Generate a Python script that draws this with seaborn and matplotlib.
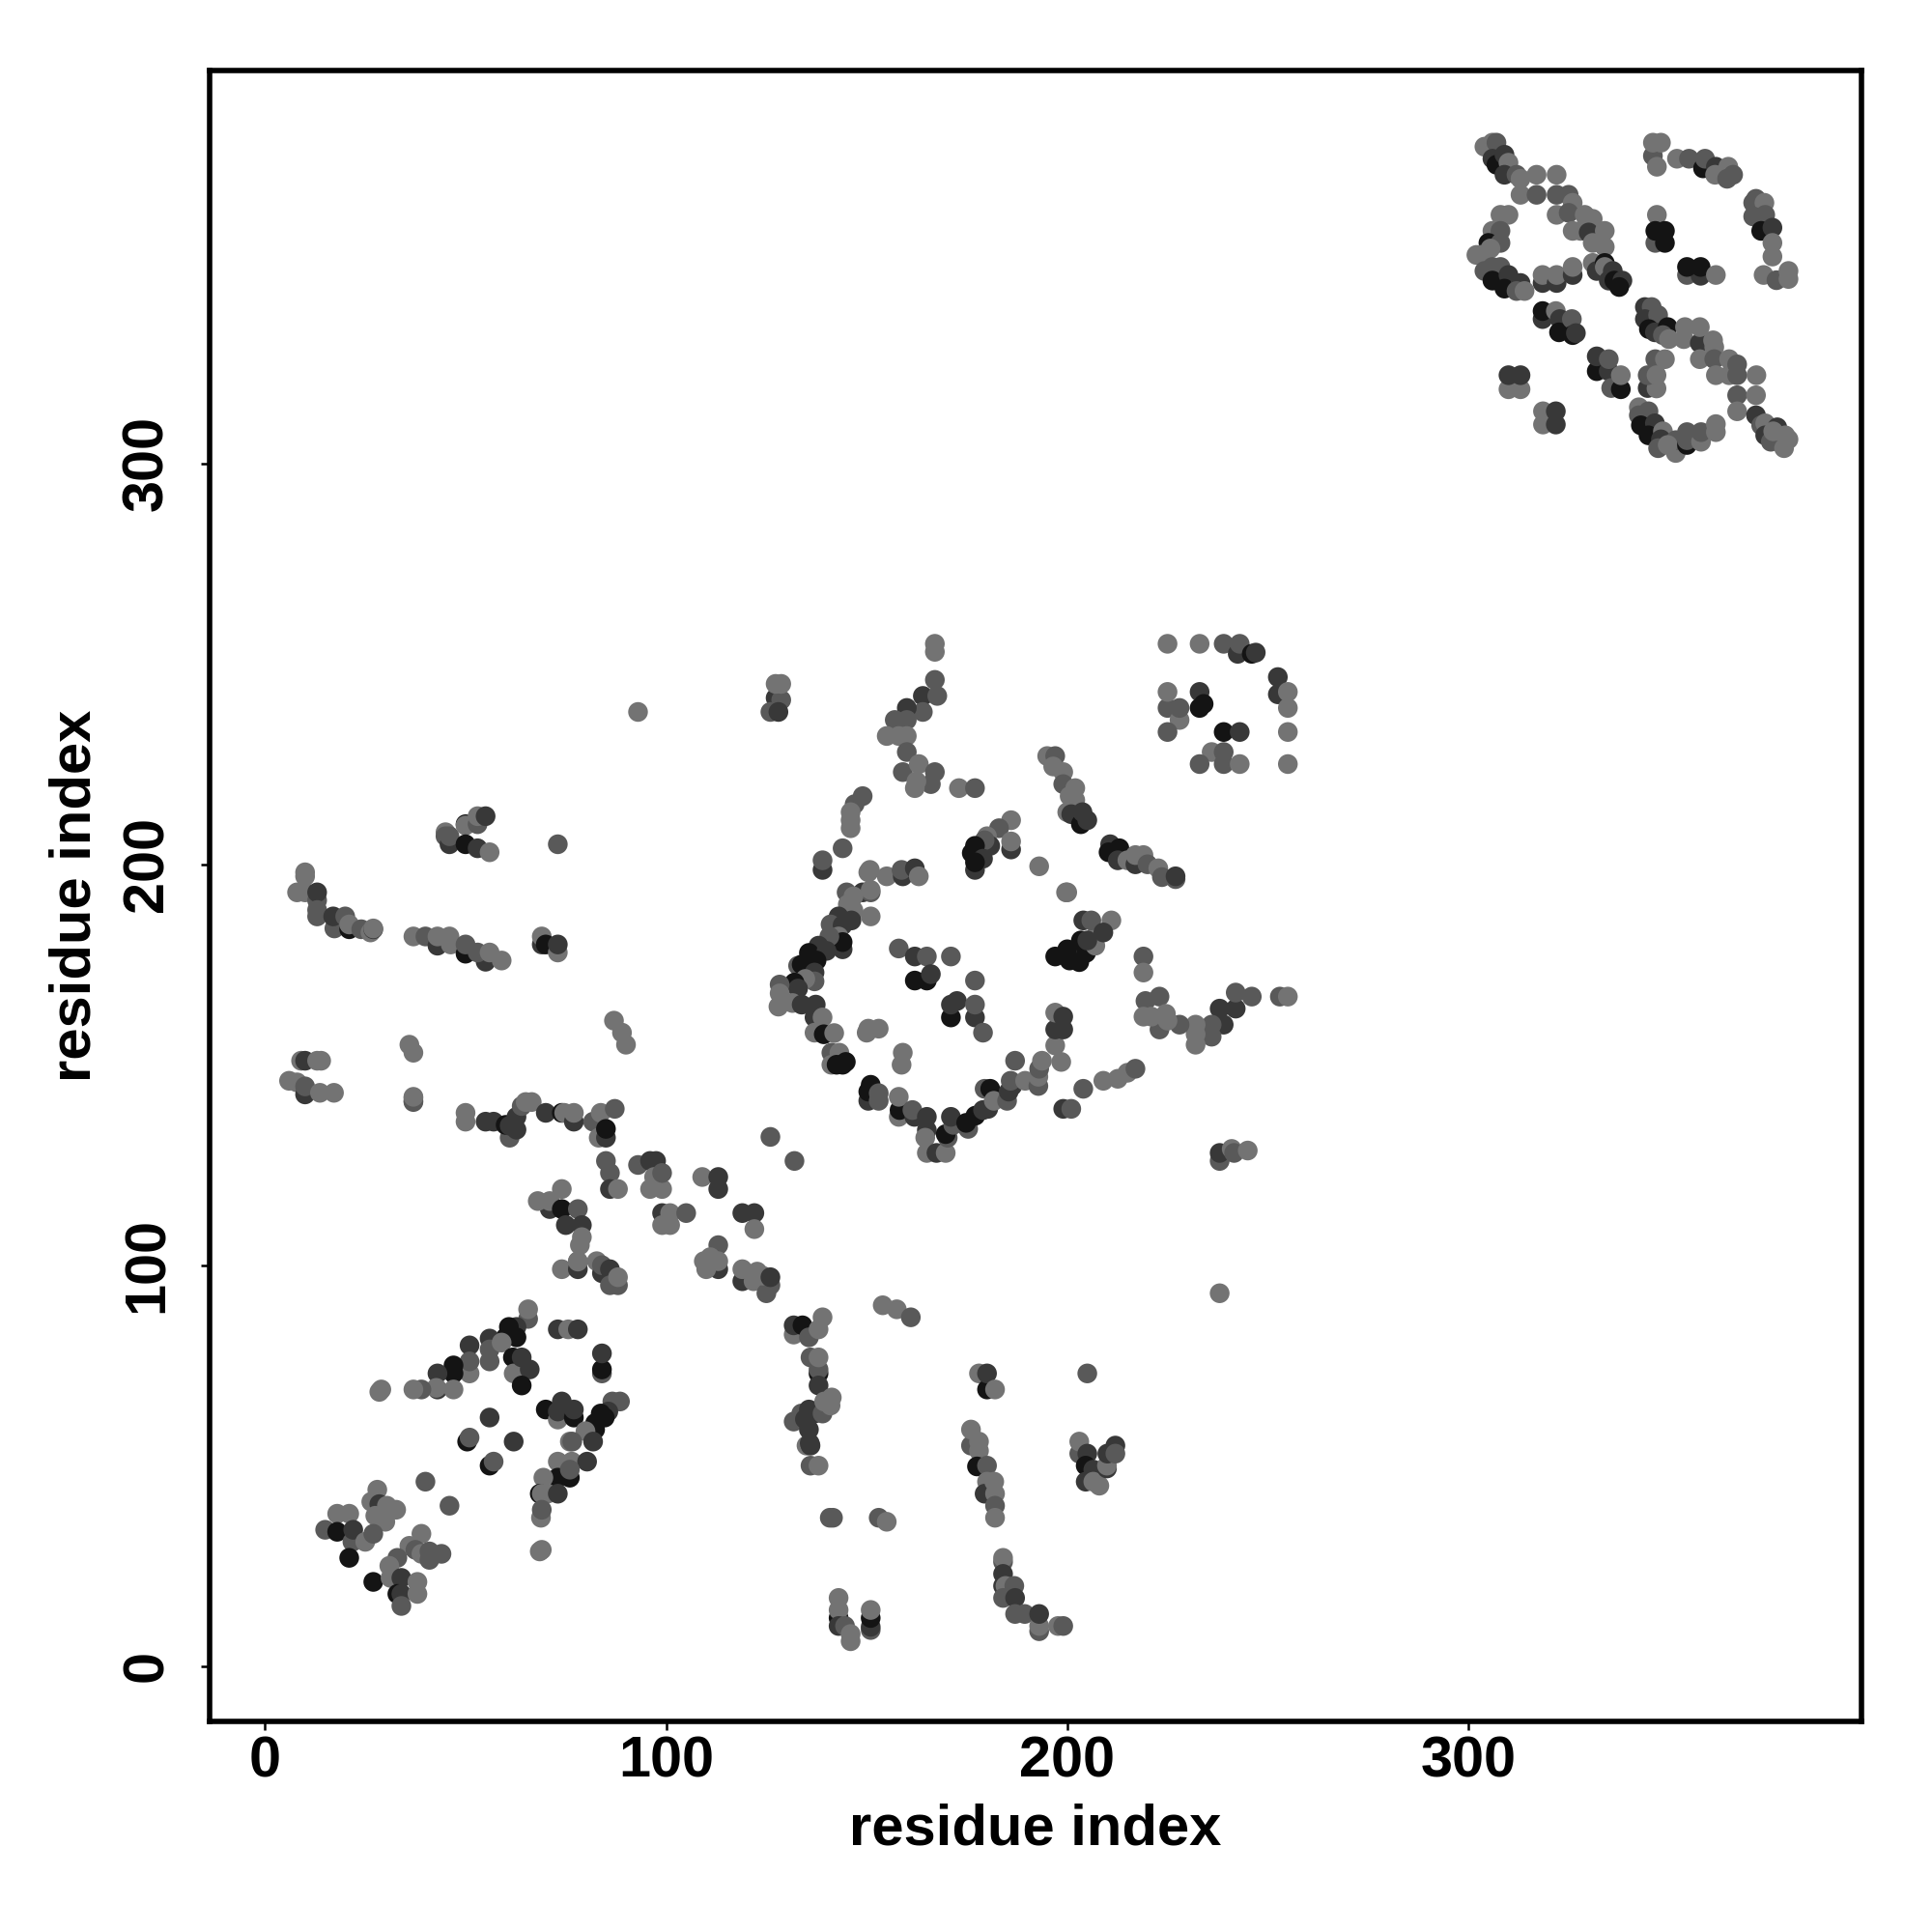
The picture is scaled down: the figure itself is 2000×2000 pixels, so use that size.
import matplotlib
matplotlib.use("Agg")
import matplotlib.pyplot as plt
import pandas as pd
import seaborn as sns

L, M, D, K = "L", "M", "D", "K"
tick_values = [0, 100, 200, 300]
axis_title = "residue index"

top_diagonal = [(304,379,L),(306,380,L),(307,380,M),(306,376,D),(307,374.5,K),(309,377,D),(310,375,L),(309,372,D),(312,372,M),(313,371,L),(317,372,L),(322,372,L),(313,367,L),(317,367,M),(322,367,M),(325,367,M),(326,365,L),(322,362,L),(325,362.5,M),(326,358,L),(329,362,L),(331,361,L),(328,358,L),(330,357.6,D),(334,358,L),(331,355,L),(334,354,L),(331,350,L),(332,348,D),(334,350,K),(334,349,L),(336,348,D),(335,345.6,D),(336.4,345.6,K),(338.4,345.6,D),(337.6,344,K)]
top_left_arc = [(308,362,L),(310,362,L),(306,358,L),(308,358,M),(305,355,K),(308,355,M),(303,352,L),(302,352,L),(305.5,353.6,L),(304,348,M),(306,349,M),(308,349,M),(306,345.6,K),(310,347,D),(309,343.6,K),(313,345,D),(312,343,M),(314,343,L),(318.5,345,D),(318.5,347,L),(322,345,D),(322,347,L),(326,347,D),(326,349,L)]
top_right_arc = [(346,376.7,M),(346,380,L),(348,380,L),(347,374,L),(352,376,L),(355,376,M),(358.5,373.6,K),(359,376,M),(361.7,374,D),(361.5,372,L),(364.8,374,L),(364.5,371,M),(366,372,M),(371,365,M),(371.7,366,M),(373.8,365,L),(371,361.6,M),(374,362,M),(373,358,K),(375.8,358.8,D),(375.8,355,L),(375.8,351.6,L),(373.6,347,L),(376.8,345.7,M),(379.8,346,L),(379.8,348,L),(347,362,L),(346.6,355,M),(349,355,K),(346.6,358,K),(349,358,K),(354.5,347,M),(357.9,346.8,D),(354.5,349,K),(357.9,349,K),(361.7,347,L)]
top_lower = [(318.5,336,D),(318.5,338,K),(321.8,338,L),(322.8,336,D),(322.6,332.7,K),(325.8,336,M),(326,332,K),(326.8,332.5,D),(332,323,K),(332,326.7,D),(335,323,D),(335,326,M),(335.6,318.8,M),(338,318.5,K),(338,322,L),(310,318.5,L),(313,318.5,L),(310,322,D),(313,322,D),(318.6,309.7,L),(318.6,313,L),(321.8,309.7,D),(321.8,313,D)]
top_main = [(344,339,D),(345.7,339,M),(344,336,D),(347.3,337,M),(345,333.5,K),(346.5,332.7,D),(349.7,334,K),(348.5,332,M),(350,331,L),(354,334,L),(353.7,331,L),(357.7,330,D),(357.7,334,L),(361,330.7,L),(361.3,329,L),(357.7,326,L),(361.3,326,M),(365,326,L),(361.7,322,L),(365,322,L),(367,322,M),(367,324.7,M),(371.8,322,L),(346.6,326,M),(349,326,L),(344.7,318.8,D),(346.9,318.7,L),(344.7,322,M),(346.9,322,L)]
top_bottom = [(342.5,314,L),(342.5,312,M),(344.9,313,M),(343,309.5,K),(346.5,310,D),(344.9,307,K),(348.5,308,L),(348,306,D),(347.3,303.8,M),(351.7,302.6,L),(351.7,305.8,M),(349.7,304.6,L),(354.5,304.6,K),(354.5,305.8,M),(354.5,307.8,M),(358,305.4,L),(358,307.8,M),(361.7,307.8,L),(361.7,309.8,L),(367,317,M),(371.7,317,L),(367,313,L),(371.7,312,D),(373,309.5,M),(374,310,L),(374,307,D),(377,309,D),(375.4,305.4,M),(376,308,L),(378.7,303.8,L),(379,307,L),(379.8,306,L)]

corner_block = [(225,255,L),(233,255,L),(239,255,M),(242.5,252.5,D),(243,255,M),(246,252.5,K),(247,252.8,D),(252.5,242.4,D),(252.5,246.7,D),(255,243,L),(255,239,L),(255,233,L),(255,225,L),(225,239,M),(225,243,L),(228,236,L),(228,239,M),(225,233,M),(233,243,D),(233,239,K),(234,240,K),(239,233,K),(243,233,D),(236,228,L),(239,228,M),(233,225,M),(239,225,M),(243,225,L)]
apex_strand = [(167,253,L),(167,255,L),(167,246,M),(164,242,D),(167.6,242,M),(164,238,M),(160,239,D),(157,236,M),(160,236,M),(155,232,L),(158,232,L),(160,232,L),(160,228,M),(159,223,M),(163,225,L),(167,223,M),(166,220,M),(162.4,220.7,L),(162,219,L),(173,219,L),(177,219,M),(127.3,241.5,D),(128.7,241,M),(127.3,245,L),(128.7,245,L),(126,238,M),(128,238,D)]
diamond_left = [(149,217,M),(147,215,M),(146,213,L),(146,211,L),(146,209,L),(144,204,M),(139,198.6,D),(139,201,M),(150.8,198.6,L),(150.4,198,L),(155,197,L),(159,197,D),(158.7,198.6,M),(162,199,D),(163,197,L),(149,193,D),(151,193,M),(151,193.6,L),(145,193,M),(146.7,192,L),(145.3,190,L),(151,187,L),(146.7,188.5,L),(143,187,D),(141,185,M),(146.2,186,D),(144,184.8,D),(143,182,L),(144,178.8,D),(144,180.6,K),(140.7,182,M),(138,179.7,D),(135.6,177.9,K),(140,178.4,D),(137.5,176,K),(132.9,174.7,M),(133.8,175,K),(137,173,D),(137,170.8,M),(134.7,171.4,L),(132,170.5,K),(132.9,169,D),(128.3,170,M),(128.3,167.8,L),(128,164.5,L),(131.5,165.4,L),(133.8,165,D),(137.3,165,D),(137,161.8,D),(139,161.8,L),(137,158,L),(139.3,157.6,K),(141.9,157.9,L),(141.2,153,M),(143.2,153,L),(141.2,150,L),(142.5,150,K),(144,150,K),(144.8,150.7,K)]
diamond_inner = [(153,159,L),(150.4,159,L),(150,158,L),(159,153,L),(158.7,150,L),(158,179,M),(162,177,D),(165,177,M),(171,177,M),(162,171,K),(165,171,K),(166,172.6,D),(177,171,M),(171,161.8,K),(171,165,D),(172.5,165.9,D),(177,161.8,D),(177,165,M),(179,158,M)]
diamond_bottom = [(150.4,141,D),(150.4,143.3,K),(151,145,K),(153,141,M),(153,142.9,M),(158,137,L),(158.2,138.7,K),(158,142,L),(161.9,137,D),(161.4,138.7,M),(165,137,D),(165,133.7,D),(164.6,131.8,L),(165,128,L),(167.4,128,D),(169.7,128,L),(170.2,131.8,M),(169.7,132.7,K),(171.6,135,M),(171,137,D),(175.3,134,M),(174.8,135.5,K),(177.1,137.3,K),(179,138.7,D),(180.3,139,D),(179.4,144,M),(180.8,144,K),(181.7,141,L),(185,141,M),(185.4,143.3,D),(186.3,144.7,D),(185.9,146,M),(189.5,146,L),(192.8,144.7,M),(192.8,147,L),(193,149,M),(193.7,151,L),(187,151,M),(198.5,150.7,L),(197,154.8,L),(197,158.8,D),(199,158.8,D),(197,163,L),(199,162,D),(204,144,M),(199,139,D),(201,139,M),(209,146,L),(212.6,146.5,L),(215,148,L),(217,149,M)]
diamond_right = [(253,167,M),(255,167,L),(246,167,M),(242,164,D),(242,168,M),(238,164,D),(239,160,D),(236,157,M),(236,160,M),(232,155,L),(232,157.6,L),(232,160,L),(228,160,M),(223,158.8,M),(223,167,M),(219.5,165.9,M),(219,162,L),(221,162,L),(224.6,162.7,L),(225,161,L),(219,177,M),(219,173,L),(197,177,K),(200,178.8,K),(200.6,176,K),(203,175.6,K),(203.4,181,K),(204.7,177.9,K),(207,179.7,L),(207,182,L),(205,181,D),(204,186,D),(206,186,M),(211,186,L),(209,183,D)]
upper_middle = [(186,211,L),(183,209,M),(186,203.7,D),(186,205.7,L),(180,207,L),(180.8,204.6,D),(179.4,206,M),(177,204.6,K),(176.2,202.8,K),(179,201.4,D),(177,198.6,D),(177,200.5,K),(193,199.5,L),(199.7,193,L),(200,193,L)]
right_strip = [(195,227,L),(197,227,M),(196.5,224.4,L),(199,223,L),(199,220,M),(202,219,L),(200.6,217,L),(202,216,L),(200,213,L),(201,212.5,D),(203.4,210,K),(203.8,213,D),(205,211,D),(210.7,205,D),(210.3,203,K),(213,204,K),(212.6,201,D),(215,201,L),(217,200,D),(217,202.3,L),(219,202.3,L),(220,200,M),(222.7,199,L),(223.6,196.8,M),(227,196.3,M),(227,197,D)]
scattered = [(238,126,M),(238,128,D),(241,129,L),(241.6,128,M),(245,128.6,L),(126,132,M),(132,126,M),(238,93,L),(93,238,L),(154,90,L),(157.5,89,L),(161,87,M),(205,73,M)]

mid_lower = [(131.8,82.7,L),(131.8,85,D),(134,85,K),(135.6,82,M),(138,84,L),(139,87,L),(136,77,M),(138,73,K),(138,74,M),(138,77,L),(138,70,D),(131.8,61,M),(133.7,63,M),(134.6,61.6,D),(135.6,64,D),(137,63,D),(139,63,M),(139.4,66,L),(141,65,L),(141.3,67,L),(135.6,59,D),(135,55,L),(135.8,55.6,D),(136,55,D),(136,50,M),(138,50,L),(140.8,37,M),(141.6,37,M),(153,37,M),(155,36,L)]
bottom_left_strand = [(143,12,K),(143,14,L),(143,17,L),(143,10,D),(144.6,10,M),(146,8,L),(146,6.2,L),(151,9,M),(151,9.8,D),(151,12,K),(151,14,L)]
mid_strands = [(178,73,L),(180,69,K),(180,73,D),(182,69,L),(176,55,M),(176,59,L),(178,56,L),(178,53.7,L),(177.5,49.8,K),(180,50,M),(180,46,L),(179.4,43,D),(181.8,46,L),(182,43,L),(182,40,M),(182,37,L),(203,53,M),(203,56,L),(205,53,D),(204.6,50,K),(204.6,46,D),(206.5,49,D),(206.5,46,L),(208,45,L),(209.9,49.3,D),(209.9,50,L),(210,53,D),(212,55,D),(212,53,M)]
bottom_strip = [(184,26,M),(184,27,L),(184,23,D),(184,20,D),(184.6,20,L),(186.8,20,M),(184,17,M),(187,17,D),(187,13,M),(189.4,13,M),(193,8.7,M),(193,10,L),(193,13,D),(197.7,10,L),(199,10,M)]

left_row = [(6,146,L),(8,145.6,L),(10,142.6,D),(10,144.6,M),(13.7,143,L),(17.2,143,L),(37,140.7,M),(37,141.7,L),(50,135.8,L),(50,138,L),(55,135.8,D),(57,135.8,D),(61,131.8,M),(60,135,K),(61,134.8,D),(62.7,133.8,D),(62.7,137,D),(64,139.7,M),(65,140.7,L),(66.5,140.7,L),(70,138,D),(74,138,K),(74.6,138,L),(77,135.8,D),(77,138,L),(81.8,135.8,M),(83.7,138,L),(87.2,139,M),(83.2,131.8,L),(85,131.8,D),(85,134,K)]
middle_block = [(85,126,M),(86,123,M),(86,119,D),(88,119,L),(93,125,M),(96,126,D),(97.5,126,D),(97,122,L),(96,119,L),(99,119,L),(99,123,M),(109,122,L),(113,119,D),(113,122,D),(99,113,D),(101,113,L),(105,113,M),(99,110,L),(101,110,L),(119,113,D),(122,113,D),(122,109,L),(113,105,M),(113,99,D),(110,99,L),(109.4,101,L),(111,102,L),(113,101,L),(119,96,D),(119,99,L),(121.8,96,L),(122.7,98.4,L),(125,93,M),(126,95,M),(124,97.4,L),(126,97,D)]
central_strand = [(74,119,L),(71,114,D),(68,116,L),(71,116,L),(74,114,K),(78,114,M),(75,110,D),(79,110,D),(79,107,L),(78.5,105,L),(78,101,L),(74,99,L),(78,99,D),(78,100.9,L),(82.7,101,L),(84,98,D),(84,100,M),(86,99,D),(86,95,M),(88,95,M),(88,97,L)]
lower_strand = [(65.6,86.6,M),(65.6,89,L),(62.7,84.6,D),(60.8,84.6,K),(62.7,82,K),(60,82,K),(56,81.7,D),(56,76,M),(56,79,M),(59,80.7,L),(51,80,D),(51,73,L),(51,76,M),(47,73,K),(47,75,K),(43,73,D),(43,69,D),(42.7,69.4,L),(39,69,M),(37,69,L),(47,69,L),(29,69,L),(28.5,68.4,L),(73,84,D),(75.6,84,L),(78,84,D),(84,73,M),(84,74,K),(84,78,D),(61.8,77,K),(62,73,L),(64,77,D),(66,74,D),(64,70,K)]
lower_inner = [(70,64,K),(73,61.5,L),(73,63.5,D),(74,66,D),(77,62,K),(77,64,D),(56,62,D),(50.4,56,K),(51,57,M),(62,56,D),(56,50,K),(57,51,M)]
lower_diagonal = [(88.5,66,M),(86.6,66,M),(85.6,63.5,D),(83.7,63,K),(84.7,62,K),(82.3,60.6,K),(82.3,59,K),(79.9,58.6,L),(81.8,56,D),(76,56,L),(76.6,56,M),(73,51,L),(76.5,51,L),(80.3,51,D),(76,47,K),(73,47,K),(76,49,M),(69.4,47,L),(68.5,43,K),(69,43,L),(70.4,43,L),(73,43,D),(68.8,37,L),(69,39,M),(68.5,28.6,L),(69,29,L),(40,46,M),(46,40,M)]
corner_clusters = [(28,44,L),(26.5,41,L),(28.5,40.4,D),(27.5,37.5,L),(30,36,L),(30.4,40,L),(32.7,39,L),(18,38,L),(21,38,L),(15,34,M),(18,33.5,K),(21.8,31,M),(22,34,D),(25,31,L),(27,33,M),(21,27,K),(27,21,K),(39,33,L),(36,30,L),(37.5,29,M),(39,28,L),(41,26.5,M),(41,28.6,M),(44,28,M),(33,27,M),(31,25,L),(31.3,22,L),(34,22,D),(38,21,L),(33,18,K),(34,18,D),(38,18,L),(34,15,M)]

upper_left = [(10,197,L),(10,198,L),(8,193,L),(10,193,L),(13,191,M),(13,193,D),(13,187,M),(13,188.6,M),(17.3,184,M),(17,187,D),(20,187,M),(21,183.8,K),(21,185,L),(24,183.8,M),(26.3,183,L),(27,183.8,D),(27,184,L),(37,182,L),(40,182,M),(43,179.7,D),(43,182,L),(46,182,L),(46.3,180,L),(50,177.7,K),(50,180,M),(55,175.7,D),(53,178,M),(56,178,L),(59,176,L),(69,180,D),(69,182,L),(70,180,K),(73,178,L),(73,180,D),(73,205,M)]
upper_left_block = [(45,208,L),(45,207,M),(46,205,D),(46,207,M),(50,210,K),(50,209.7,L),(50,205,K),(53,210,M),(53,212,L),(55,212,D),(53,204,D),(56,203,L),(87,161,L),(89,158,L),(90,155,L),(36,155,L),(37,153,L),(37,141,M),(37,142,L),(9,151,L),(10,151,D),(13,151,L),(14,151,L)]

groups = [top_diagonal, top_left_arc, top_right_arc, top_lower, top_main, top_bottom,
          corner_block, apex_strand, diamond_left, diamond_inner, diamond_bottom,
          diamond_right, upper_middle, right_strip, scattered, mid_lower,
          bottom_left_strand, mid_strands, bottom_strip, left_row, middle_block,
          central_strand, lower_strand, lower_inner, lower_diagonal, corner_clusters,
          upper_left, upper_left_block]
rows = [p for g in groups for p in g]
df = pd.DataFrame(rows, columns=["i", "j", "shade"])

shade_colors = {L: "#737373", M: "#595959", D: "#383838", K: "#141414"}

sns.set_theme(style="white")
plt.rcParams["font.family"] = ["Liberation Sans", "DejaVu Sans"]
plt.rcParams["font.weight"] = "bold"

fig = plt.figure(figsize=(10, 10), dpi=200, facecolor="white")
ax = fig.add_axes([217/2000, 1 - 1782/2000, (1927-217)/2000, (1782-73)/2000])
sns.scatterplot(data=df, x="i", y="j", hue="shade", palette=shade_colors,
                s=54, linewidth=0, alpha=1, legend=False, ax=ax)
ax.set_xlim(-13.8, 398)
ax.set_ylim(-13.8, 398)
ax.set_xticks(tick_values)
ax.set_yticks(tick_values)
ax.tick_params(axis="both", length=3.2, width=0.9, color="black", labelcolor="black",
               labelsize=21.4, left=True, bottom=True)
ax.tick_params(axis="x", pad=2)
ax.tick_params(axis="y", pad=10)
for t in ax.get_yticklabels():
    t.set_rotation(90)
    t.set_va("center")
    t.set_fontweight("bold")
for t in ax.get_xticklabels():
    t.set_fontweight("bold")
ax.set_xlabel(axis_title, fontsize=21.5, fontweight="bold", color="black", labelpad=5.5)
ax.set_ylabel(axis_title, fontsize=21.5, fontweight="bold", color="black", labelpad=7)
for s in ax.spines.values():
    s.set_visible(True)
    s.set_color("black")
    s.set_linewidth(2.0)
fig.savefig("out.png", dpi=200, facecolor="white")
